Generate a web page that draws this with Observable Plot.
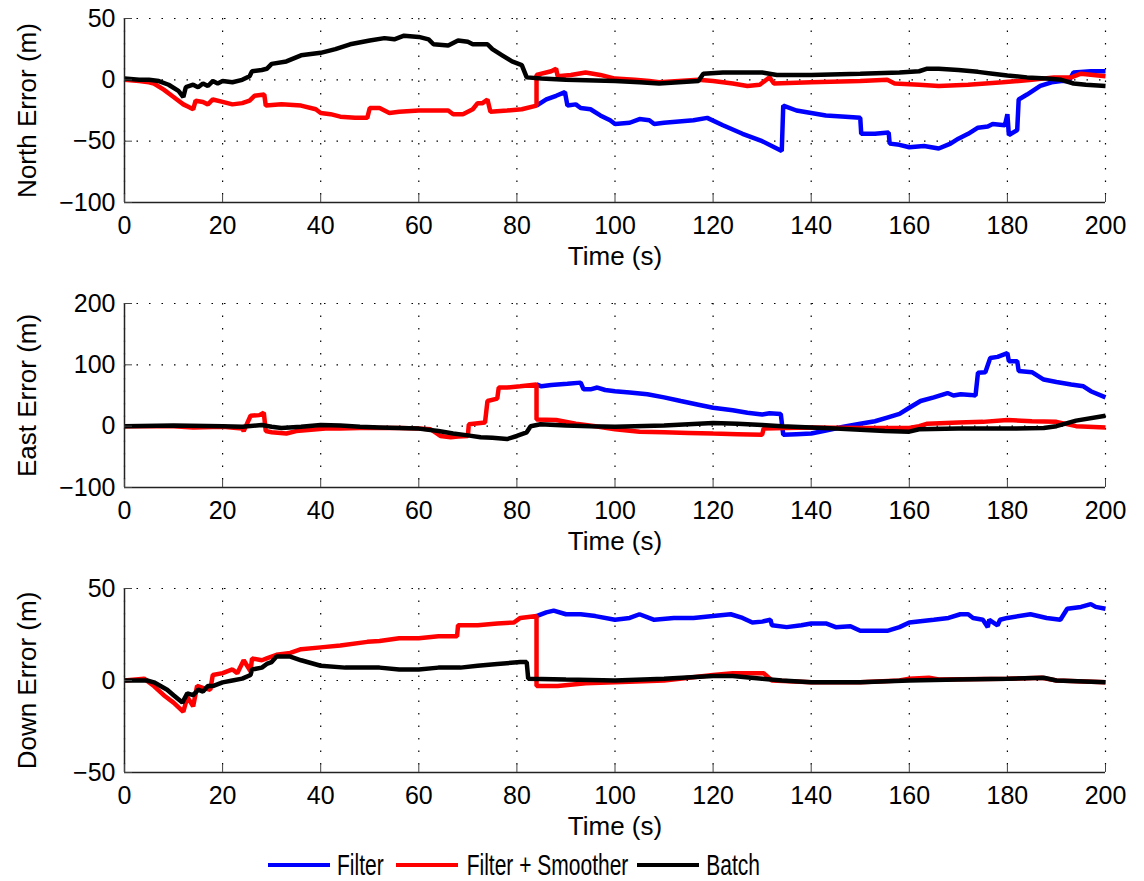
<!DOCTYPE html>
<html>
<head>
<meta charset="utf-8">
<script src="https://cdn.jsdelivr.net/npm/d3@7"></script>
<script src="https://cdn.jsdelivr.net/npm/@observablehq/plot@0.6"></script>
<style>
  body { margin: 0; background: #fff; font-family: "Liberation Sans", Arial, sans-serif; }
  #wrap { position: relative; width: 1144px; height: 881px; background: #fff; }
  #wrap svg { display: block; }
  #legend { position: absolute; left: 268px; top: 851px; height: 28px; display: flex; align-items: center; font-size: 21px; color: #000; }
  .sw { width: 62px; height: 4px; }
  .lt { display: inline-block; transform: scaleY(1.4); line-height: 28px; }
</style>
</head>
<body>
<div id="wrap"><div id="charts"></div><div id="legend"></div></div>
<script>
// ---- data (time s, error m) ----
const seriesNames = ["Filter", "Filter + Smoother", "Batch"];
const seriesColors = ["#0000ff", "#ff0000", "#000000"];
const xTicks = [0, 20, 40, 60, 80, 100, 120, 140, 160, 180, 200];
const panelLabels = ["North Error (m)", "East Error (m)", "Down Error (m)"];
const northTicks = [-100, -50, 0, 50];
const eastTicks = [-100, 0, 100, 200];
const downTicks = [-50, 0, 50];

const northFilter = [[84,-21],[86,-16],[88,-13],[89.8,-10],[90.3,-21],[92,-20],[93,-23],[95,-24],[97,-29],[99,-33],[100,-36],[103,-35],[105,-32],[107,-33],[108,-36],[110,-35],[113,-34],[116,-33],[118.8,-31],[122,-37],[126,-44],[130,-50],[134,-58],[134.3,-21],[137,-25],[140,-27],[143,-29],[147,-30],[150,-31],[150.2,-44],[153,-44],[155.8,-43],[156,-52],[158,-53],[160,-55],[163,-54],[166,-56],[168.4,-52],[170,-48],[172,-44],[174,-39],[176,-38],[177,-36],[179.5,-37],[180,-28],[180.3,-45],[182,-41],[182.3,-16],[184,-12],[186.7,-5],[189,-2],[191,-1],[192.5,-1],[193.5,6],[197,7],[200,7]];
const northSmoother = [[0,0],[3,-1],[5,-2],[6,-3],[8,-8],[10,-14],[12,-20],[13,-22],[14,-24],[14.5,-17],[16,-18],[17,-20],[18,-16],[20,-18],[22,-20],[24,-19],[25.5,-17],[26.5,-13],[28.5,-12],[28.8,-21],[32,-20],[36,-21],[39,-24],[40,-27],[42,-28],[44,-30],[47,-31],[49.5,-31],[50,-23],[52,-23],[54,-27],[56,-26],[60,-25],[63,-25],[66,-25],[67,-28],[69,-28],[71,-24],[72,-19],[73,-19],[74,-16],[74.6,-26],[78,-25],[81,-24],[84,-21],[84,4],[87,7],[88,9],[88.3,3],[91,4],[94,6],[97,4],[100,1],[104,0],[107,-1],[109,-2],[113,-1],[117,0],[120,-1],[124,-3],[127,-5],[129.5,-4],[131.5,2],[132.4,-3],[140,-2],[150,-1],[155.5,0],[157,-3],[162,-4],[166,-5],[172,-4],[179,-2],[185,0],[189.5,2],[193,2],[195,5],[200,3]];
const northBatch = [[0,1],[3,0],[5,0],[7,-1],[9,-4],[11,-9],[12,-14],[12.5,-6],[14,-4],[15,-6],[16,-3],[17,-5],[18,-1],[19,-3],[20,-1],[22,-2],[24,0],[25.5,3],[26,7],[28,8],[29,9],[30,13],[33,15],[36,20],[40,22],[43,25],[46,29],[50,32],[53,34],[55,33],[57,36],[60,35],[62,33],[63,29],[66,28],[68,32],[70,31],[71,29],[74,29],[75,25],[77,20],[79,15],[81,12],[82,2],[85,1],[90,0],[100,-1],[105,-2],[109,-3],[113,-2],[117,-1],[118,5],[122,6],[127,6],[130,6],[133,4],[140,4],[150,5],[158,6],[162,7],[163.5,9],[166,9],[170,8],[174,6.5],[177,5],[180,3.5],[184,2],[188,1],[191,0],[193.5,-3],[196,-4],[200,-5]];

const eastFilter = [[84,68],[85,65],[87,67],[90.3,69],[93,71],[93.6,60],[95,60],[96.4,63],[98,59],[100,57],[103,55],[106.6,52],[110,47],[113.4,41],[117,35],[120,30],[124,26],[127,22],[130,19],[131.5,21],[133.8,20],[134.3,-14],[137,-13],[140,-12],[143,-7],[146.6,-1],[150,4],[153,8],[155.5,14],[158,20],[160,30],[162.3,41],[165,47],[167.8,54],[169,50],[170.5,52],[172.5,51],[173.5,50],[174,87],[175.5,88],[176.5,111],[178,113],[180,119],[180.3,106],[182,106],[182.3,90],[185,88],[187.4,76],[190,72],[193,68],[195.5,65],[197,57],[200,47]];
const eastSmoother = [[0,0],[10,0],[14,-2],[20,-1],[24,-4],[24.3,-8],[25.7,17],[27.5,18],[28.4,22],[28.8,-8],[30,-10],[33,-12],[35,-8],[38,-6],[41,-4],[44,-4],[48,-3],[52,-3],[56,-3],[60,-4],[62.4,-5],[64.4,-16],[66.5,-18],[68,-17],[70,-16],[70.2,3],[73.5,6],[74,41],[76,45],[76.3,63],[78,63],[80.7,65],[84,68],[84,11],[88,10],[92,4],[96,0],[100,-5],[105,-9],[110,-10],[115,-11],[120,-12],[125,-13],[130,-14],[130.3,-4],[135,-3],[140,-2],[150,-3],[160,-3],[162,0],[163.7,4],[170,6],[175,7],[180,10],[185,8],[190,7],[194,0],[200,-2]];
const eastBatch = [[0,0],[10,1],[20,0],[24,-1],[28,2],[30,-1],[32,-3],[36,-1],[40,2],[44,1],[48,-1],[52,-2],[56,-3],[60,-4],[64,-8],[67,-12],[70,-15],[72.6,-18],[75,-19],[78,-21],[80,-16],[82,-10],[82.8,0],[84.8,3],[90,1],[95,0],[100,-1],[110,1],[120,5],[125,4],[130,2],[134,0],[140,-2],[145,-4],[150,-6],[155,-8],[160,-9],[162,-5],[170,-4],[180,-4],[187.4,-3],[190,0],[194,9],[200,17]];

const downFilter = [[84,35],[86,37],[87.5,38],[90,36],[93,36],[96,35],[100,33],[103,34],[105,36],[108,33],[112,34],[116,34],[120,35],[123.6,36],[126,34],[128,31.5],[130,32],[131.7,33],[132,30],[135,29],[138,30],[140,31],[143,31],[145,29],[148,29.5],[150,27],[153,27],[155.5,27],[158,29],[160,31.5],[165,33],[168,34],[170.4,36],[172,36],[173,34],[175,33],[176,29],[176.3,33],[178,30],[178.5,33],[180,34],[184.7,36],[188,34],[190.8,33],[192.2,39],[195,40],[197,41.5],[198,40],[200,39]];
const downSmoother = [[0,0],[4,1],[6,-3],[8,-8],[10,-12],[12,-17],[12.8,-9],[14,-14],[14.8,-3],[16,-4],[17.5,-5],[18,3],[20,4],[22,6],[23,4],[24.3,11],[25.7,5],[26,12],[28,11],[29,12],[31,14],[33.8,15],[36,17],[40,18],[44,19],[49.5,21],[52,21.5],[56,23],[60,23],[64,24],[67.8,24],[68,30],[72,30],[76,31],[79.4,31.5],[80.7,34],[84,35],[84,-3],[88.3,-3],[94,-1.5],[100,-1],[110,0],[120,3],[124,4],[128,4],[130.3,4],[132,0],[140,-1],[150,-1],[158,0],[160,1],[164,1.5],[166,0.5],[180,1],[187,1.5],[190,0],[200,-1]];
const downBatch = [[0,0],[4.6,0],[6,-1],[8.7,-5],[10,-8],[11.8,-12],[12.8,-7],[14,-8],[15,-5],[16,-6],[17,-3],[18,-3],[20,-1],[22,0],[24,1],[25.7,3],[26,6],[28,7],[29,9],[30,10],[31,13],[33.8,13],[36,11],[40,8],[45,7],[49.5,7],[52,7],[56,6],[60,6],[64,7],[68.5,7],[72,8],[76,9],[80.7,10],[82,10],[82.3,1],[90,0.5],[100,0],[110,1],[120,2.5],[124,2.5],[130,1],[134,0],[140,-1],[150,-1],[160,0],[170,0.5],[180,1],[187.4,1.5],[190,0],[200,-1]];

// ---- build ----
const panels = [
  {label: panelLabels[0], ticks: northTicks, series: [northFilter, northSmoother, northBatch]},
  {label: panelLabels[1], ticks: eastTicks, series: [eastFilter, eastSmoother, eastBatch]},
  {label: panelLabels[2], ticks: downTicks, series: [downFilter, downSmoother, downBatch]}
];
const fmt = d => d < 0 ? "\u2212" + Math.abs(d) : String(d);
const charts = document.getElementById("charts");

for (const p of panels) {
  const yDom = [p.ticks[0], p.ticks[p.ticks.length - 1]];
  const lines = p.series.map((s, i) => Plot.line(s, {x: d => d[0], y: d => d[1], stroke: seriesColors[i], strokeWidth: 4.5, strokeLinejoin: "miter", strokeLinecap: "butt"}));
  const chart = Plot.plot({
    width: 1144, height: 285,
    marginLeft: 124, marginRight: 39, marginTop: 18, marginBottom: 83,
    style: {fontFamily: '"Liberation Sans", Arial, sans-serif', fontSize: "25px", background: "#fff", overflow: "visible"},
    x: {domain: [0, 200]},
    y: {domain: yDom},
    marks: [
      Plot.gridX(xTicks, {stroke: "#000", strokeOpacity: 1, strokeWidth: 1.2, strokeDasharray: "1.5,11"}),
      Plot.gridY(p.ticks, {stroke: "#000", strokeOpacity: 1, strokeWidth: 1.2, strokeDasharray: "1.5,11"}),
      ...lines,
      Plot.ruleY([yDom[0]], {stroke: "#222", strokeWidth: 1.5}),
      Plot.ruleX([0], {stroke: "#222", strokeWidth: 1.5}),
      Plot.axisX(xTicks, {tickSize: -8, tickPadding: 22, tickFormat: fmt, label: null, stroke: "#444"}),
      Plot.axisY(p.ticks, {tickSize: -8, tickPadding: 17, tickFormat: fmt, label: null, stroke: "#444"}),
      Plot.text([p.label], {frameAnchor: "left", textAnchor: "middle", dx: -97, rotate: -90, fontSize: 26}),
      Plot.text(["Time (s)"], {frameAnchor: "bottom", textAnchor: "middle", dy: 62, fontSize: 26})
    ]
  });
  charts.appendChild(chart);
}

// legend
const legend = document.getElementById("legend");
const gaps = [[7, 12], [9, 9], [7, 0]];
seriesNames.forEach((name, i) => {
  const sw = document.createElement("div");
  sw.className = "sw";
  sw.style.background = seriesColors[i];
  sw.style.marginRight = gaps[i][0] + "px";
  const t = document.createElement("span");
  t.className = "lt";
  t.textContent = name;
  t.style.marginRight = gaps[i][1] + "px";
  legend.appendChild(sw);
  legend.appendChild(t);
});
</script>
</body>
</html>
